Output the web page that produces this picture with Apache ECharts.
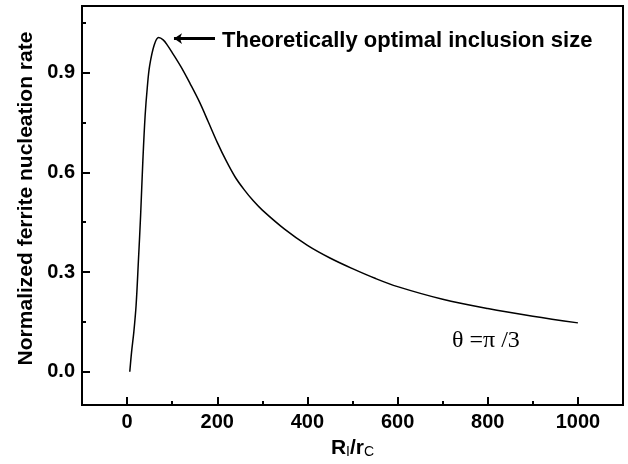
<!DOCTYPE html>
<html>
<head>
<meta charset="utf-8">
<script src="https://cdn.jsdelivr.net/npm/echarts@6/dist/echarts.min.js"></script>
<style>
  html, body { margin: 0; padding: 0; background: #fff; }
  #main { width: 628px; height: 464px; }
</style>
</head>
<body>
<div id="main"></div>
<script>
// values
const ratioR = [6, 10, 15, 20, 25, 30, 35, 40, 45, 50, 60, 70, 80, 90, 100, 120, 140, 160, 180, 200,
  220, 240, 260, 280, 300, 350, 400, 450, 500, 550, 600, 700, 800, 900, 1000];
const rate = [0.0, 0.06, 0.12, 0.2, 0.33, 0.47, 0.635, 0.77, 0.858, 0.92, 0.982, 1.005, 0.998, 0.981,
  0.96, 0.916, 0.866, 0.813, 0.752, 0.69, 0.634, 0.585, 0.547, 0.514, 0.486, 0.428, 0.38, 0.342,
  0.31, 0.281, 0.256, 0.218, 0.19, 0.167, 0.147];
const xMajor = [0, 200, 400, 600, 800, 1000];
const xMinor = [100, 300, 500, 700, 900];
const yMajor = [0, 0.3, 0.6, 0.9];
const yMinor = [0.15, 0.45, 0.75, 1.05];

const FONT = 'Liberation Sans, Arial';
const labelFont = { color: '#000', fontFamily: FONT, fontWeight: 'bold', fontSize: 20 };

let myChart = echarts.init(document.getElementById('main'));

const points = ratioR.map((r, i) => [r, rate[i]]);

const option = {
  backgroundColor: '#fff',
  animation: false,
  grid: {
    left: 82, right: 5, top: 6, bottom: 56,
    show: true, borderColor: '#000', borderWidth: 2
  },
  xAxis: [
    {
      type: 'value', min: -100, max: 1100,
      name: '{a|R}{s|I}{a|/r}{s|C}',
      nameLocation: 'middle', nameGap: 32,
      nameTextStyle: {
        rich: {
          a: { fontFamily: FONT, fontWeight: 'bold', fontSize: 21, color: '#000' },
          s: { fontFamily: FONT, fontSize: 14, color: '#000', verticalAlign: 'bottom', padding: [8, 0, 0, 0] }
        }
      },
      axisLine: { onZero: false, lineStyle: { color: '#000', width: 2 } },
      axisTick: { inside: true, length: 8, lineStyle: { color: '#000', width: 2 }, customValues: xMajor },
      axisLabel: Object.assign({ margin: 7, customValues: xMajor, formatter: v => String(v) }, labelFont),
      splitLine: { show: false }
    },
    {
      type: 'value', min: -100, max: 1100, position: 'bottom',
      axisLine: { show: false, onZero: false },
      axisTick: { inside: true, length: 4, lineStyle: { color: '#000', width: 2 }, customValues: xMinor },
      axisLabel: { show: false },
      splitLine: { show: false }
    }
  ],
  yAxis: [
    {
      type: 'value', min: -0.1, max: 1.1,
      name: 'Normalized ferrite nucleation rate',
      nameLocation: 'middle', nameGap: 44,
      nameTextStyle: { color: '#000', fontFamily: FONT, fontWeight: 'bold', fontSize: 21, padding: [0, 0, 0, 14] },
      axisLine: { onZero: false, lineStyle: { color: '#000', width: 2 } },
      axisTick: { inside: true, length: 8, lineStyle: { color: '#000', width: 2 }, customValues: yMajor },
      axisLabel: Object.assign({ margin: 7, customValues: yMajor, formatter: v => v.toFixed(1) }, labelFont),
      splitLine: { show: false }
    },
    {
      type: 'value', min: -0.1, max: 1.1, position: 'left',
      axisLine: { show: false, onZero: false },
      axisTick: { inside: true, length: 4, lineStyle: { color: '#000', width: 2 }, customValues: yMinor },
      axisLabel: { show: false },
      splitLine: { show: false }
    }
  ],
  series: [
    {
      type: 'line',
      data: points,
      smooth: 0.35,
      symbol: 'none',
      lineStyle: { color: '#000', width: 1.5 },
      markLine: {
        silent: true,
        symbol: ['arrow', 'none'],
        symbolSize: 8,
        label: { show: false },
        lineStyle: { color: '#000', width: 3, type: 'solid' },
        data: [[{ coord: [104, 1.002] }, { coord: [195, 1.002] }]]
      }
    }
  ],
  graphic: [
    {
      type: 'text', left: 222, top: 30,
      style: { text: 'Theoretically optimal inclusion size', fill: '#000',
        font: 'bold 22px "Liberation Sans", Arial' }
    },
    {
      type: 'text', left: 452, top: 329,
      style: { text: 'θ =π /3', fill: '#000', font: '24px "Liberation Serif", "Times New Roman"' }
    }
  ]
};
myChart.setOption(option);
</script>
</body>
</html>
